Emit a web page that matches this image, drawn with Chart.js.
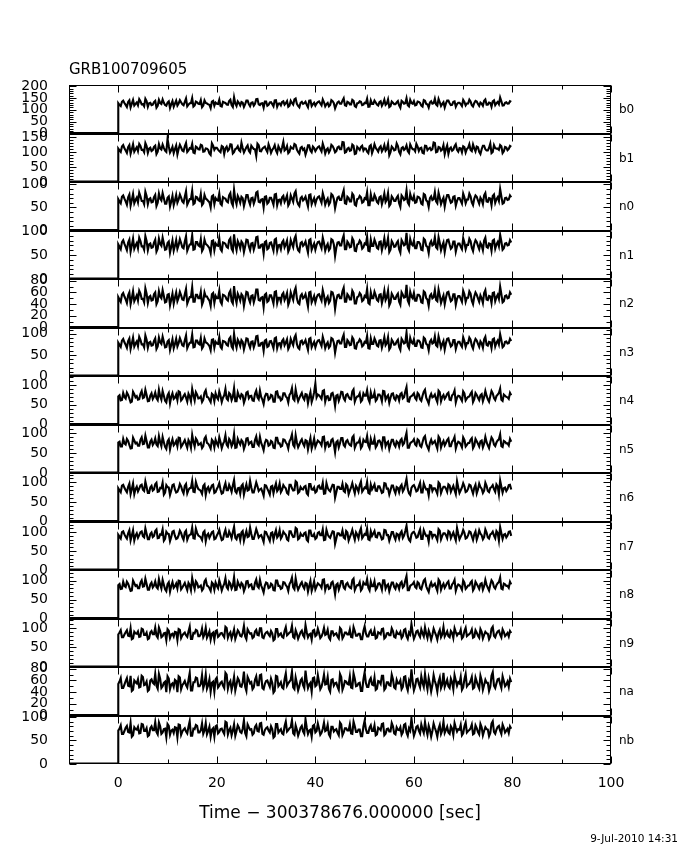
<!DOCTYPE html>
<html><head><meta charset="utf-8">
<script src="https://cdn.jsdelivr.net/npm/chart.js@4.4.1/dist/chart.umd.min.js"></script>
<style>
html,body{margin:0;padding:0;background:#fff;}
#wrap{position:relative;width:680px;height:850px;overflow:hidden;font-family:"DejaVu Sans",sans-serif;color:#000;}
#c{position:absolute;left:0;top:0;}
.lbl{position:absolute;left:619px;font-size:12px;line-height:12px;}
#title{position:absolute;left:69px;top:62px;font-size:15px;line-height:15px;}
#date{position:absolute;right:2px;top:833px;font-size:10.5px;line-height:11px;}
</style></head><body>
<div id="wrap"><canvas id="c" width="680" height="850"></canvas>
<div id="title">GRB100709605</div><div id="date">9-Jul-2010 14:31</div></div>
<script>
const panelNames = ['b0','b1','n0','n1','n2','n3','n4','n5','n6','n7','n8','n9','na','nb'];
const yMax = [205,163,105,101,83,115,123,121,124,128,128,124,83,103];
const yTickLabels = [[0,50,100,150,200],[0,50,100,150],[0,50,100],[0,50,100],[0,20,40,60,80],[0,50,100],[0,50,100],[0,50,100],[0,50,100],[0,50,100],[0,50,100],[0,50,100],[0,20,40,60,80],[0,50,100]];
const yMinorStep = [10,10,10,10,10,10,10,10,10,10,10,10,10,10];
const xTickLabels = [0,20,40,60,80,100];
const xMinorTicks = [10,30,50,70,90];
const preTimes = [-10, 0];
const preCounts = [0, 0];
// counts sampled every binWidth seconds; the "b" arrays are the samples half a bin later
const binStart = 0, binWidth = 0.5;

const b0a = [128,116,139,121,133,110,142,125,119,136,124,147,113,130,122,138,117,129,144,120,
131,108,137,126,118,141,123,134,115,128,150,119,132,125,111,140,127,121,135,117,
126,143,114,131,122,137,120,153,116,129,133,112,139,124,130,118,145,123,127,109,
135,121,132,115,141,126,119,136,128,113,138,122,148,117,130,125,134,111,140,124,
118,133,127,144,115,129,121,137,106,131,126,139,119,134,123,142,116,128,136,120,
130,147,114,125,139,122,132,117,143,127,112,135,124,131,119,138,126,149,115,129,
137,121,133,118,141,125,110,136,128,123,146,116,132,127,139,120,134,113,130,124,
142,119,127,135,114,138,125,131,117,144,122,129,136,120,133,152,118,130,126,137];
const b0b = [121,134,129,112,140,126,118,131,145,123,115,137,128,120,133,109,142,125,130,117,
136,124,113,139,127,132,119,148,122,128,114,135,126,141,118,129,123,107,138,131,
125,116,134,129,121,143,112,127,136,119,130,124,139,115,132,126,146,120,128,135,
117,131,124,140,113,127,133,122,137,118,129,144,125,111,134,128,121,139,116,130,
127,136,119,132,124,115,141,128,120,135,126,149,117,131,123,138,112,129,134,122,
128,113,140,125,131,118,136,127,121,144,116,130,124,137,109,133,128,120,142,126,
119,135,129,114,138,123,131,126,147,118,132,125,110,139,128,121,136,124,130,116,
133,127,143,120,129,135,117,126,138,122,131,113,140,128,124,136,119,132,127,134];
const b1a = [112,101,124,106,117,95,127,110,104,121,108,131,98,115,107,122,102,113,126,105,
145,99,118,111,93,125,106,120,101,114,128,97,116,109,123,103,112,96,130,108,
115,104,121,94,119,110,126,100,113,107,132,99,117,105,122,111,88,124,103,116,
109,127,98,114,106,120,102,135,110,97,118,112,125,101,115,108,92,123,106,119,
104,117,111,129,96,113,107,121,100,116,110,134,99,112,105,126,94,118,108,122,
113,102,120,97,127,109,115,103,124,111,90,119,106,130,101,114,108,123,98,117,
110,128,104,115,96,121,112,107,133,100,118,105,124,111,95,116,109,127,102,113,
120,99,115,108,126,103,117,94,122,110,106,129,101,114,112,124,97,118,107,121];
const b1b = [106,119,113,98,124,110,102,117,128,108,100,121,112,104,118,94,127,109,115,101,
120,107,97,123,111,116,103,131,106,112,99,119,110,125,102,113,108,91,122,115,
109,100,118,113,105,127,96,111,120,103,114,108,123,99,116,110,129,104,112,119,
101,115,108,124,97,111,117,106,121,102,113,128,109,95,118,112,105,123,100,114,
111,120,103,116,108,99,125,112,104,119,110,133,101,115,107,122,96,113,118,106,
112,97,124,109,115,102,120,111,105,128,100,114,108,121,93,117,112,104,126,110,
103,119,113,98,122,107,115,110,131,102,116,109,94,123,112,105,120,108,114,100,
117,111,127,104,113,119,101,110,122,106,115,97,124,112,108,120,103,116,111,118];
const n0a = [68,59,76,63,72,54,79,66,61,74,64,84,57,70,62,77,60,69,81,58,
71,52,75,65,60,78,63,73,56,68,86,59,72,64,55,77,67,61,74,57,
66,80,55,70,63,76,60,88,57,69,73,53,77,64,70,58,82,62,67,50,
74,61,71,56,79,66,59,75,68,54,76,62,85,57,70,65,73,52,78,64,
58,72,67,81,56,69,61,76,48,71,66,78,59,73,63,80,56,68,75,60,
70,83,55,65,77,62,72,57,80,67,53,74,64,71,59,76,66,87,56,69,
75,61,72,58,79,65,51,74,68,63,82,57,71,67,77,60,73,54,70,64,
80,59,67,74,55,76,65,71,57,81,62,69,75,60,72,90,58,70,66,76];
const n0b = [63,73,69,56,78,66,59,71,82,64,57,75,68,61,72,53,80,65,70,58,
74,63,55,77,67,71,60,85,62,68,57,73,66,79,59,69,64,50,76,70,
65,58,72,69,61,81,54,67,75,60,70,64,77,56,71,66,84,61,68,73,
58,71,64,78,55,67,72,62,76,59,69,80,65,53,73,68,62,77,57,70,
67,74,60,71,64,56,79,68,61,73,66,87,58,70,63,76,54,69,72,62,
68,55,78,65,71,59,74,67,62,81,57,70,64,75,51,72,68,61,79,66,
60,73,69,56,77,63,70,66,83,59,71,65,52,77,68,62,74,64,70,58,
72,67,80,61,69,73,58,66,76,63,70,55,78,68,64,74,60,71,67,72];
const n1a = [72,62,81,67,76,57,84,70,64,79,68,89,60,74,66,82,63,73,86,61,
75,55,80,69,63,83,66,78,59,72,91,62,77,68,58,82,71,64,79,60,
70,85,58,75,67,81,63,93,60,73,78,56,82,68,74,61,87,65,71,53,
79,64,76,59,84,70,62,80,72,57,81,66,90,60,75,69,78,55,83,68,
61,77,71,86,59,73,64,81,48,76,70,83,62,78,66,85,59,72,80,63,
74,88,58,69,82,65,77,60,85,71,56,79,67,75,62,81,70,96,59,73,
80,64,77,61,84,69,54,79,72,66,87,60,76,71,82,63,78,57,74,67,
85,62,71,79,58,81,69,75,60,86,65,73,80,63,77,92,61,74,70,81];
const n1b = [67,77,73,60,82,70,63,75,86,68,61,79,72,65,76,57,84,69,74,62,
78,67,59,81,71,75,64,89,66,72,61,77,70,83,63,73,68,54,80,74,
69,62,76,73,65,85,58,71,79,64,74,68,81,60,75,70,88,65,72,77,
62,75,68,82,59,71,76,66,80,63,73,84,69,57,77,72,66,81,61,74,
71,78,64,75,68,60,83,72,65,77,70,91,62,74,67,80,58,73,76,66,
72,59,82,69,75,63,78,71,66,85,61,74,68,79,55,76,72,65,83,70,
64,77,73,60,81,67,74,70,87,63,75,69,56,81,72,66,78,68,74,62,
76,71,84,65,73,77,62,70,80,67,74,59,82,72,68,78,64,75,71,76];
const n2a = [52,44,59,48,55,40,62,50,46,58,49,67,42,54,47,60,45,53,64,43,
56,38,58,51,45,61,48,57,41,52,69,44,56,50,39,60,53,46,57,42,
50,63,40,55,48,59,45,71,42,53,57,37,61,49,54,43,65,47,51,35,
58,46,55,41,62,51,44,59,52,39,60,47,68,42,54,50,57,36,61,48,
43,56,51,64,41,53,46,60,32,55,50,62,44,57,48,63,41,52,59,45,
54,66,40,50,61,47,56,42,63,52,38,58,49,55,44,60,51,73,41,53,
59,46,56,43,62,50,37,57,52,47,65,42,55,51,61,45,57,39,54,49,
63,44,51,58,40,60,50,55,42,64,47,53,59,45,56,70,43,54,50,60];
const n2b = [48,56,53,42,60,50,45,55,63,49,43,58,52,46,57,40,62,50,54,44,
57,48,41,60,51,55,47,66,47,52,44,56,50,61,45,53,49,37,59,54,
50,44,56,53,46,63,41,51,58,46,54,49,60,43,55,51,65,46,52,56,
44,55,49,61,42,51,56,47,59,45,53,62,50,40,57,52,47,60,43,54,
51,57,46,55,49,42,61,52,47,56,50,68,44,54,48,59,41,53,56,47,
52,42,60,50,55,45,57,51,47,63,43,54,49,58,39,56,52,46,61,50,
46,56,53,42,60,48,54,50,64,45,55,49,40,60,52,47,57,49,54,44,
57,51,62,46,53,56,44,50,59,48,54,42,60,52,49,57,45,55,51,56];
const n3a = [79,69,88,74,83,64,91,77,71,86,75,96,67,81,73,89,70,80,93,68,
82,62,87,76,70,90,73,85,66,79,98,69,84,75,65,89,78,71,86,67,
77,92,65,82,74,88,70,100,67,80,85,63,89,75,81,68,94,72,78,60,
86,71,83,66,91,77,69,87,79,64,88,73,97,67,82,76,85,62,90,75,
68,84,78,93,66,80,71,88,55,83,77,90,69,85,73,92,66,79,87,70,
81,95,65,76,89,72,84,67,92,78,63,86,74,82,69,88,77,103,66,80,
87,71,84,68,91,76,61,86,79,73,94,67,83,78,89,70,85,64,81,74,
92,69,78,86,65,88,76,82,67,93,72,80,87,70,84,99,68,81,77,88];
const n3b = [74,84,80,67,89,77,70,82,93,75,68,86,79,72,83,64,91,76,81,69,
85,74,66,88,78,82,71,96,73,79,68,84,77,90,70,80,75,61,87,81,
76,69,83,80,72,92,65,78,86,71,81,75,88,67,82,77,95,72,79,84,
69,82,75,89,66,78,83,73,87,70,80,91,76,64,84,79,73,88,68,81,
78,85,71,82,75,67,90,79,72,84,77,98,69,81,74,87,65,80,83,73,
79,66,89,76,82,70,85,78,73,92,68,81,75,86,62,83,79,72,90,77,
71,84,80,67,88,74,81,77,94,70,82,76,63,88,79,73,85,75,81,69,
83,78,91,72,80,84,69,77,87,74,81,66,89,79,75,85,71,82,78,83];
const n4a = [71,61,80,66,75,56,83,69,63,78,67,88,59,73,65,81,62,72,85,60,
74,54,79,68,62,82,65,77,58,71,90,61,76,67,57,81,70,63,78,59,
69,84,57,74,66,80,62,92,59,72,77,55,81,67,73,60,86,64,70,52,
78,63,75,58,83,69,61,79,71,56,80,65,89,59,74,68,77,54,82,67,
104,76,70,85,58,72,63,80,47,75,69,82,61,77,65,84,58,71,79,62,
73,87,57,68,81,64,76,59,84,70,55,78,66,74,61,80,69,95,58,72,
79,63,76,60,83,68,53,78,71,65,86,59,75,70,81,62,77,56,73,66,
84,61,70,78,57,80,68,74,59,85,64,72,79,62,76,91,60,73,69,80];
const n4b = [74,62,70,81,66,58,77,72,64,85,69,75,60,79,71,67,88,63,73,56,
80,70,65,76,84,61,72,68,78,59,74,82,66,71,63,87,69,57,75,79,
64,73,68,90,62,76,70,59,81,67,74,65,83,72,61,78,69,86,63,71,
77,66,73,58,84,70,64,79,68,75,92,61,72,67,80,63,76,70,57,82,
69,74,65,87,71,62,78,68,73,60,83,66,75,70,64,89,67,72,58,79,
73,65,81,69,60,76,71,85,63,74,68,79,62,72,77,66,84,59,70,75,
67,80,64,73,88,61,71,69,76,57,82,70,65,78,63,74,86,68,72,60,
79,66,71,83,64,75,62,77,69,73,58,85,67,72,80,63,76,70,65,74];
const n5a = [76,66,85,71,80,61,88,74,68,83,72,93,64,78,70,86,67,77,90,65,
79,59,84,73,67,87,70,82,63,76,95,66,81,72,62,86,75,68,83,64,
74,89,62,79,71,85,67,97,64,77,82,60,86,72,78,65,91,69,75,57,
83,68,80,63,88,74,66,84,76,61,85,70,94,64,79,73,82,59,87,72,
65,81,75,90,63,77,68,85,52,80,74,87,66,82,70,89,63,76,84,67,
78,92,62,73,86,69,81,64,89,75,60,83,71,79,66,85,74,100,63,77,
84,68,81,65,88,73,58,83,76,70,91,64,80,75,86,67,82,61,78,71,
89,66,75,83,62,85,73,79,64,90,69,77,84,67,81,96,65,78,74,85];
const n5b = [78,66,74,85,70,62,81,76,68,89,73,79,64,83,75,71,92,67,77,60,
84,74,69,80,88,65,76,72,82,63,78,86,70,75,67,91,73,61,79,83,
68,77,72,94,66,80,74,63,85,71,78,69,87,76,65,82,73,90,67,75,
81,70,77,62,88,74,68,83,72,79,96,65,76,71,84,67,80,74,61,86,
73,78,69,91,75,66,82,72,77,64,87,70,79,74,68,93,71,76,62,83,
77,69,85,73,64,80,75,89,67,78,72,83,66,76,81,70,88,63,74,79,
71,84,68,77,92,65,75,73,80,61,86,74,69,82,67,78,90,72,76,64,
83,70,75,87,68,79,66,81,73,77,62,89,71,76,84,67,80,74,69,78];
const n6a = [85,75,94,80,89,70,97,83,77,92,81,102,73,87,79,95,76,86,99,74,
88,68,93,82,76,96,79,91,72,85,104,75,90,81,71,95,84,77,92,73,
83,98,71,88,80,94,76,106,73,86,91,69,95,81,87,74,100,78,84,66,
92,77,89,72,97,83,75,93,85,70,94,79,103,73,88,82,91,68,96,81,
74,90,84,99,72,86,77,94,61,89,83,96,75,91,79,98,72,85,93,76,
87,101,71,82,95,78,90,73,98,84,69,92,80,88,75,94,83,109,72,86,
93,77,90,74,97,82,67,92,85,79,100,73,89,84,95,76,91,70,87,80,
98,75,84,92,71,94,82,88,73,99,78,86,93,76,90,105,74,87,83,94];
const n6b = [80,92,86,75,97,83,70,89,84,94,78,88,73,91,82,99,77,85,69,93,
87,79,95,74,84,90,72,96,81,86,76,101,83,78,91,68,88,84,94,75,
89,82,73,98,80,86,92,77,85,71,95,83,79,104,74,87,90,82,76,93,
84,69,91,86,78,97,81,88,73,94,85,80,100,76,83,89,72,96,82,87,
77,92,84,71,98,80,86,93,75,89,83,78,95,70,87,84,91,76,102,81,
85,73,94,88,79,90,82,75,97,84,80,92,72,86,89,77,95,83,68,91,
86,79,99,74,88,83,93,78,85,71,96,82,89,76,92,84,80,103,73,87,
90,77,94,81,86,72,97,84,79,91,75,88,83,95,70,89,85,78,93,82];
const n7a = [93,83,102,88,97,78,105,91,85,100,89,110,81,95,87,103,84,94,107,82,
96,76,101,90,84,104,87,99,80,93,112,83,98,89,79,103,92,85,100,81,
91,106,79,96,88,102,84,114,81,94,99,77,103,89,95,82,108,86,92,74,
100,85,97,80,105,91,83,101,93,78,102,87,111,81,96,90,99,76,104,89,
82,98,92,107,80,94,85,102,69,97,91,104,83,99,87,106,80,93,101,84,
95,109,79,90,103,86,98,81,106,92,77,100,88,96,83,102,91,117,80,94,
101,85,98,82,105,90,75,100,93,87,108,81,97,92,103,84,99,78,95,88,
106,83,92,100,79,102,90,96,81,107,86,94,101,84,98,113,82,95,91,102];
const n7b = [88,100,94,83,105,91,78,97,92,102,86,96,81,99,90,107,85,93,77,101,
95,87,103,82,92,98,80,104,89,94,84,109,91,86,99,76,96,92,102,83,
97,90,81,106,88,94,100,85,93,79,103,91,87,112,82,95,98,90,84,101,
92,77,99,94,86,105,89,96,81,102,93,88,108,84,91,97,80,104,90,95,
85,100,92,79,106,88,94,101,83,97,91,86,103,78,95,92,99,84,110,89,
93,81,102,96,87,98,90,83,105,92,88,100,80,94,97,85,103,91,76,99,
94,87,107,82,96,91,101,86,93,79,104,90,97,84,100,92,88,111,81,95,
98,85,102,89,94,80,105,92,87,99,83,96,91,103,78,97,93,86,101,90];
const n8a = [88,78,97,83,92,73,100,86,80,95,84,105,76,90,82,98,79,89,102,77,
91,71,96,85,79,99,82,94,75,88,107,78,93,84,74,98,87,80,95,76,
86,101,74,91,83,97,79,109,76,89,94,72,98,84,90,77,103,81,87,69,
95,80,92,75,100,86,78,96,88,73,97,82,106,76,91,85,94,71,99,84,
77,93,87,102,75,89,80,97,64,92,86,99,78,94,82,101,75,88,96,79,
90,104,74,85,98,81,93,76,101,87,72,95,83,91,78,97,86,112,75,89,
96,80,93,77,100,85,70,95,88,82,103,76,92,87,98,79,94,73,90,83,
101,78,87,95,74,97,85,91,76,102,81,89,96,79,93,108,77,90,86,97];
const n8b = [91,79,86,97,82,74,93,88,80,101,85,91,76,95,87,83,104,79,89,72,
96,86,81,92,100,77,88,84,94,75,90,98,82,87,79,103,85,73,91,95,
80,89,84,106,78,92,86,75,97,83,90,81,99,88,77,94,85,102,79,87,
93,82,89,74,100,86,80,95,84,91,108,77,88,83,96,79,92,86,73,98,
85,90,81,103,87,78,94,84,89,76,99,82,91,86,80,105,83,88,74,95,
89,81,97,85,76,92,87,101,79,90,84,95,78,88,93,82,100,75,86,91,
83,96,80,89,104,77,87,85,92,73,98,86,81,94,79,90,102,84,88,76,
95,82,87,99,80,91,78,93,85,89,74,101,83,88,96,79,92,86,81,90];
const n9a = [83,94,76,89,80,99,73,86,91,78,96,82,71,88,84,101,75,92,79,87,
97,74,85,90,69,95,81,88,77,103,72,86,93,79,98,83,75,91,85,70,
94,80,87,76,100,84,73,96,82,89,78,105,71,90,86,77,95,81,99,74,
88,83,92,68,97,79,86,75,102,84,90,77,94,72,89,81,107,76,85,93,
79,98,74,87,82,95,70,91,84,78,100,73,88,83,96,76,92,80,85,71,
104,78,89,82,94,75,87,97,73,86,81,99,77,90,84,74,95,79,88,110,
72,91,83,96,78,85,93,70,98,81,87,76,102,84,79,92,74,89,86,95,
77,100,82,88,75,94,80,97,73,90,85,78,103,76,91,83,96,79,87,92];
const n9b = [88,76,83,94,79,71,90,85,77,98,82,88,73,92,84,80,101,76,86,69,
93,83,78,89,97,74,85,81,91,72,87,95,79,84,76,100,82,70,88,92,
77,86,81,103,75,89,83,72,94,80,87,78,96,85,74,91,82,99,76,84,
90,79,86,71,97,83,77,92,81,88,105,74,85,80,93,76,89,83,70,95,
82,87,78,100,84,75,91,81,86,73,96,79,88,83,77,102,80,85,71,92,
86,78,94,82,73,89,84,98,76,87,81,92,75,85,90,79,97,72,83,88,
80,93,77,86,101,74,84,82,89,70,95,83,78,91,76,87,99,81,85,73,
92,79,84,96,77,88,75,90,82,86,71,98,80,85,93,76,89,83,78,87];
const naa = [54,64,47,59,51,68,44,57,62,49,66,53,42,60,56,71,46,63,50,58,
67,45,55,61,40,65,52,59,48,73,43,57,64,50,69,54,46,62,56,41,
65,51,58,47,70,55,44,66,53,60,49,75,42,61,57,48,67,52,70,45,
59,54,63,39,68,50,57,46,72,55,61,48,65,43,60,52,77,47,56,64,
50,69,45,58,53,66,41,62,55,49,71,44,59,54,67,47,63,51,56,42,
74,49,60,53,65,46,58,68,44,57,52,70,48,61,55,45,66,50,59,79,
43,62,54,67,49,56,64,41,69,52,58,47,73,55,50,63,45,60,57,66,
48,71,53,59,46,65,51,68,44,61,56,49,74,47,62,54,67,50,58,63];
const nab = [58,47,53,64,50,42,60,55,48,68,52,58,44,62,54,51,71,47,56,40,
63,53,49,59,67,45,55,52,61,43,57,65,50,54,47,70,52,41,58,62,
48,56,51,73,46,59,53,43,64,50,57,49,66,55,45,61,52,69,47,54,
60,49,56,42,67,53,48,62,51,58,75,45,55,50,63,47,59,53,41,65,
52,57,49,70,54,46,61,51,56,44,66,50,58,53,48,72,50,55,42,62,
56,49,64,52,44,59,54,68,47,57,51,62,46,55,60,49,67,43,53,58,
50,63,48,56,71,45,54,52,59,41,65,53,49,61,47,57,69,51,55,44,
62,50,54,66,48,58,46,60,52,56,42,68,51,55,63,47,59,53,49,57];
const nba = [71,82,64,77,68,87,61,74,79,66,84,70,59,76,72,89,63,80,67,75,
85,62,73,78,57,83,69,76,65,91,60,74,81,67,86,71,63,79,73,58,
82,68,75,64,88,72,61,84,70,77,66,93,59,78,74,65,83,69,87,62,
76,71,80,56,85,67,74,63,90,72,78,65,82,60,77,69,95,64,73,81,
67,86,62,75,70,83,58,79,72,66,88,61,76,71,84,64,80,68,73,59,
92,66,77,70,82,63,75,85,61,74,69,87,65,78,72,62,83,67,76,97,
60,79,71,84,66,73,81,58,86,69,75,64,90,72,67,80,62,77,74,83,
65,88,70,76,63,82,68,85,61,78,73,66,91,64,79,71,84,67,75,80];
const nbb = [75,64,70,81,67,58,78,73,65,85,70,76,61,80,72,68,88,64,74,57,
81,71,66,77,84,62,73,69,79,60,75,83,67,72,64,87,70,58,76,80,
65,74,69,90,63,77,71,60,82,68,75,66,84,73,62,79,70,86,64,72,
78,67,74,59,85,71,65,80,69,76,93,62,73,68,81,64,77,71,58,83,
70,75,66,88,72,63,79,69,74,61,84,67,76,71,65,90,68,73,59,80,
74,66,82,70,61,77,72,86,64,75,69,80,63,73,78,67,85,60,71,76,
68,81,65,74,89,62,72,70,77,58,83,71,66,79,64,75,87,69,73,61,
80,67,72,84,65,76,63,78,70,74,59,86,68,73,81,64,77,71,66,75];
const countsA = [b0a,b1a,n0a,n1a,n2a,n3a,n4a,n5a,n6a,n7a,n8a,n9a,naa,nba];
const countsB = [b0b,b1b,n0b,n1b,n2b,n3b,n4b,n5b,n6b,n7b,n8b,n9b,nab,nbb];

const FONT = 'DejaVu Sans';
const scales = {
  x: {
    type: 'linear', position: 'bottom', min: -10, max: 100,
    afterBuildTicks: s => { s.ticks = xTickLabels.map(v => ({value: v})); },
    afterFit: s => { s.height = 86; },
    grid: {display: false}, border: {display: false},
    ticks: {color: '#000', font: {family: FONT, size: 14}, padding: 3, maxRotation: 0, autoSkip: false},
    title: {display: true, text: 'Time \u2212 300378676.000000 [sec]', color: '#000',
            font: {family: FONT, size: 17}, padding: {top: 0, bottom: 26}}
  }
};
// stacked axes are laid out bottom-up, so add them from the last panel to the first
for (let i = panelNames.length - 1; i >= 0; i--) {
  scales['y' + i] = {
    type: 'linear', position: 'left', stack: 'panels', stackWeight: 1, offset: false,
    min: 0, max: yMax[i],
    grid: {display: false}, border: {display: false},
    afterBuildTicks: s => { s.ticks = yTickLabels[i].map(v => ({value: v})); },
    afterFit: s => { s.width = 69; },
    ticks: {color: '#000', font: {family: FONT, size: 14}, padding: 13, autoSkip: false}
  };
}

const datasets = [];
panelNames.forEach((n, i) => {
  const pts = preTimes.map((t, k) => ({x: t, y: preCounts[k]}));
  countsA[i].forEach((v, k) => {
    pts.push({x: binStart + k * binWidth, y: v});
    pts.push({x: binStart + (k + 0.5) * binWidth, y: countsB[i][k]});
  });
  datasets.push({data: pts, yAxisID: 'y' + i, borderColor: '#000', borderWidth: 2.1, pointRadius: 0, tension: 0, fill: false});
  datasets.push({data: preTimes.map((t, k) => ({x: t, y: preCounts[k]})), yAxisID: 'y' + i,
                 borderColor: '#000', borderWidth: 3, pointRadius: 0, fill: false});
});

const framePlugin = {
  id: 'frame',
  afterDatasetsDraw(chart) {
    const ctx = chart.ctx, ca = chart.chartArea, xs = chart.scales.x;
    const L = Math.round(ca.left) + 0.5, R = Math.round(ca.right) - 0.5;
    ctx.save();
    ctx.strokeStyle = '#000'; ctx.lineWidth = 1;
    ctx.beginPath();
    ctx.moveTo(L, ca.top); ctx.lineTo(L, ca.bottom);
    ctx.moveTo(R, ca.top); ctx.lineTo(R, ca.bottom);
    panelNames.forEach((n, i) => {
      const ys = chart.scales['y' + i];
      const T = Math.round(ys.top) + 0.5, B = Math.round(ys.bottom) - 0.5;
      ctx.moveTo(L, T); ctx.lineTo(R, T);
      ctx.moveTo(L, B); ctx.lineTo(R, B);
      xTickLabels.forEach(v => {
        const x = Math.round(xs.getPixelForValue(v)) + 0.5;
        ctx.moveTo(x, T); ctx.lineTo(x, T + 7);
        ctx.moveTo(x, B); ctx.lineTo(x, B - 7);
      });
      xMinorTicks.forEach(v => {
        const x = Math.round(xs.getPixelForValue(v)) + 0.5;
        ctx.moveTo(x, T); ctx.lineTo(x, T + 4);
        ctx.moveTo(x, B); ctx.lineTo(x, B - 4);
      });
      for (let v = 0; v <= yMax[i]; v += yMinorStep[i]) {
        const len = yTickLabels[i].includes(v) ? 7 : 4;
        const y = Math.round(ys.getPixelForValue(v)) + 0.5;
        ctx.moveTo(L, y); ctx.lineTo(L + len, y);
        ctx.moveTo(R, y); ctx.lineTo(R - len, y);
      }
    });
    ctx.stroke();
    ctx.restore();
  }
};

const chart = new Chart(document.getElementById('c'), {
  type: 'line',
  data: {datasets},
  options: {
    responsive: false, animation: false, devicePixelRatio: 1,
    layout: {padding: {top: 85, right: 69, bottom: 0, left: 0}},
    plugins: {legend: {display: false}, tooltip: {enabled: false}},
    scales
  },
  plugins: [framePlugin]
});

const wrap = document.getElementById('wrap');
panelNames.forEach((n, i) => {
  const ys = chart.scales['y' + i];
  const d = document.createElement('div');
  d.className = 'lbl';
  d.textContent = n;
  d.style.top = ((ys.top + ys.bottom) / 2 - 6) + 'px';
  wrap.appendChild(d);
});
</script>
</body></html>
